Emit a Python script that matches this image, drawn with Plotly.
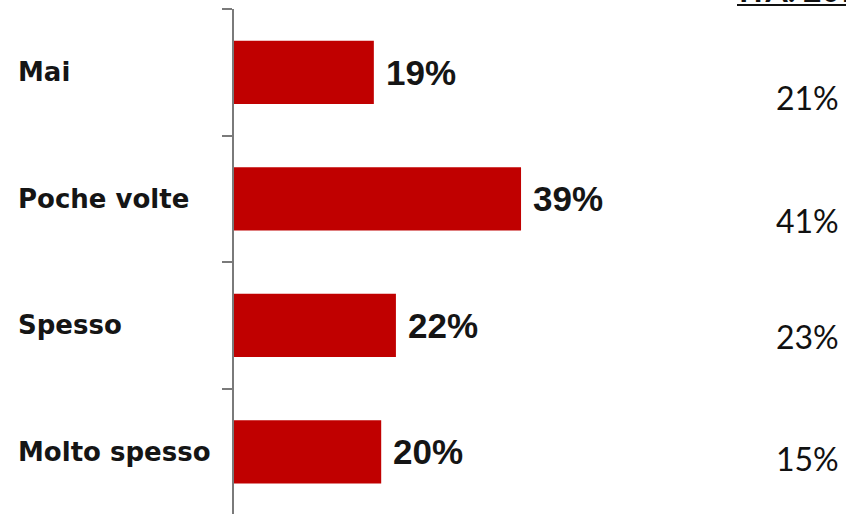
import plotly.graph_objects as go

categories = ["Mai", "Poche volte", "Spesso", "Molto spesso"]
values = [19, 39, 22, 20]
bar_labels = ["19%", "39%", "22%", "20%"]
ita_values = ["21%", "41%", "23%", "15%"]
header = "ITA. 2014"

W, H = 846, 514
ml, mr, mt, mb = 234, 0, 9, 0
pw = W - ml - mr
ph = H - mt - mb
px_per_unit = 7.36
xmax = pw / px_per_unit

def px_x(p):
    return (p - ml) / pw

def px_y(p):
    return (H - mb - p) / ph

# vertical offsets (px) of the right-hand column relative to each bar centre
ita_shift = [-25, -22, -11, -7]

fig = go.Figure()
fig.add_trace(go.Bar(
    y=categories, x=values, orientation="h",
    marker=dict(color="#C00000", line=dict(width=0)),
    width=0.5, hoverinfo="skip",
))

ann = []
for c, v, t in zip(categories, values, bar_labels):
    ann.append(dict(x=v, y=c, xref="x", yref="y", text="<b>" + t + "</b>",
                    showarrow=False, xanchor="left", xshift=10, yshift=0,
                    font=dict(family="Liberation Sans, Arial", size=35, color="#151515")))
    ann.append(dict(x=px_x(16), y=c, xref="paper", yref="y", text="<b>" + c + "</b>",
                    showarrow=False, xanchor="left", yshift=0,
                    font=dict(family="DejaVu Sans", size=26, color="#151515")))
for c, t, s in zip(categories, ita_values, ita_shift):
    ann.append(dict(x=px_x(807), y=c, xref="paper", yref="y", text=t,
                    showarrow=False, xanchor="center", yshift=s,
                    font=dict(family="Lato, Liberation Sans", size=32, color="#111111")))
ann.append(dict(x=px_x(737), y=px_y(11), xref="paper", yref="paper",
                text="<b>" + header + "</b>", showarrow=False,
                xanchor="left", yanchor="bottom",
                font=dict(family="Lato, Liberation Sans", size=32, color="#111111")))

fig.update_layout(
    width=W, height=H,
    margin=dict(l=ml, r=mr, t=mt, b=mb),
    paper_bgcolor="white", plot_bgcolor="white",
    showlegend=False,
    annotations=ann,
    shapes=[dict(type="line", xref="paper", yref="paper",
                 x0=px_x(737), x1=px_x(846), y0=px_y(5), y1=px_y(5),
                 line=dict(color="#111111", width=2))],
    xaxis=dict(range=[0, xmax], visible=False, fixedrange=True),
    yaxis=dict(categoryorder="array", categoryarray=categories[::-1],
               range=[-0.49, 3.5], showticklabels=False,
               showline=True, linecolor="#7a7a7a", linewidth=2,
               ticks="outside", tickson="boundaries", ticklen=10,
               tickcolor="#7a7a7a", tickwidth=2, showgrid=False,
               zeroline=False, fixedrange=True),
)

fig.write_html("out.html", config={"displayModeBar": False},
               post_script="document.body.style.margin='0';")
